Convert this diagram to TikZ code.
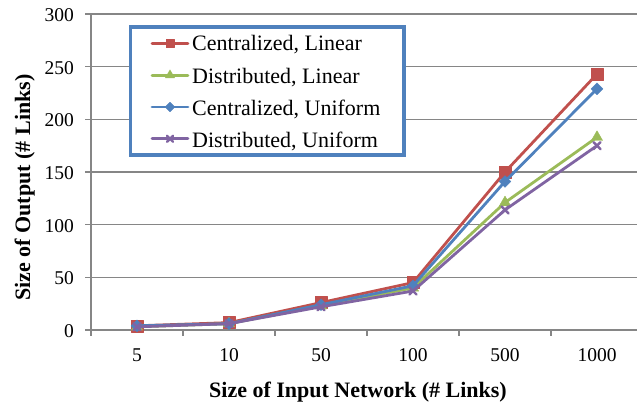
\documentclass[tikz,border=0pt]{standalone}
\usepackage{fontspec}
\setmainfont{Liberation Serif}
\usetikzlibrary{plotmarks}

\definecolor{serred}{HTML}{C0504D}
\definecolor{sergreen}{HTML}{9BBB59}
\definecolor{serblue}{HTML}{4F81BD}
\definecolor{serpurple}{HTML}{8064A2}
\definecolor{gridgray}{HTML}{868686}

\tikzset{
  gridline/.style={draw=gridgray, line width=1.4pt},
  ticklabel/.style={font=\fontsize{19.5}{20}\selectfont, inner sep=0pt},
  axistitle/.style={font=\fontsize{22}{24}\selectfont\bfseries, inner sep=0pt},
  legendtext/.style={font=\fontsize{22}{24}\selectfont, inner sep=0pt, anchor=base west},
  series/.style={line width=2.8pt, line join=round, line cap=round},
  cenlin/.style={series, color=serred, mark=square*, mark size=6pt, mark options={line width=0.4pt}},
  dislin/.style={series, color=sergreen, mark=triangle*, mark size=6.5pt, mark options={line width=0.4pt}},
  cenuni/.style={series, color=serblue, mark=square*, mark size=4.2pt, mark options={rotate=45, line width=0.4pt}},
  disuni/.style={series, color=serpurple, mark=x, mark size=5pt, mark options={line width=2.4pt}}
}

\begin{document}
\begin{tikzpicture}[x=1pt, y=-1pt]
    \useasboundingbox (0,0) rectangle (637,404);
    % Grid, axes and tick labels:
    \foreach \v in {0,50,...,300} {
        \draw[gridline] (85,{330-1.05333*\v}) -- (637,{330-1.05333*\v});
        \node[ticklabel, anchor=east] (ylab\v) at (74,{331-1.05333*\v}) {\v};
    }
    \draw[gridline] (91,14) -- (91,336);
    \foreach \i in {1,...,5}
        \draw[gridline] ({91+92*\i},330) -- ({91+92*\i},336);
    \foreach \lab [count=\i from 0] in {5,10,50,100,500,1000}
        \node[ticklabel] (xlab\i) at ({137+92*\i},355) {\lab};
    \node[axistitle, anchor=base] (xtitle) at (358,397) {Size of Input Network (\# Links)};
    \node[axistitle, anchor=base, rotate=90] (ytitle) at (30,187.5) {Size of Output (\# Links)};
    % Data series (value axis: 0 at 330, 300 at 14):
    \begin{scope}[shift={(0,330)}, y=1.05333pt]
        \draw[cenlin] plot coordinates {(137,4) (229,7) (321,26) (413,45) (505,150) (597,243)};
        \draw[dislin] plot coordinates {(137,3) (229,6) (321,23) (413,40) (505,121) (597,183)};
        \draw[cenuni] plot coordinates {(137,4) (229,6) (321,24) (413,42) (505,141) (597,229)};
        \draw[disuni] plot coordinates {(137,3) (229,6) (321,22) (413,37) (505,114) (597,175)};
    \end{scope}
    % Legend:
    \node[draw=serblue, line width=3.6pt, fill=white, inner sep=0pt,
          minimum width=273.5pt, minimum height=127.7pt] (legend) at (267.25,90.85) {};
    \draw[cenlin, mark size=4.3pt, mark indices={2}] plot coordinates {(152,43.3) (170,43.3) (188,43.3)};
    \node[legendtext] (leg1) at (192,51) {Centralized, Linear};
    \draw[dislin, mark size=5.3pt, mark indices={2}] plot coordinates {(152,75.2) (170,75.2) (188,75.2)};
    \node[legendtext] (leg2) at (192,83) {Distributed, Linear};
    \draw[cenuni, mark size=3.4pt, mark indices={2}] plot coordinates {(152,107) (170,107) (188,107)};
    \node[legendtext] (leg3) at (192,115) {Centralized, Uniform};
    \draw[disuni, mark size=4.3pt, mark indices={2}] plot coordinates {(152,138.8) (170,138.8) (188,138.8)};
    \node[legendtext] (leg4) at (192,147) {Distributed, Uniform};
\end{tikzpicture}
\end{document}
